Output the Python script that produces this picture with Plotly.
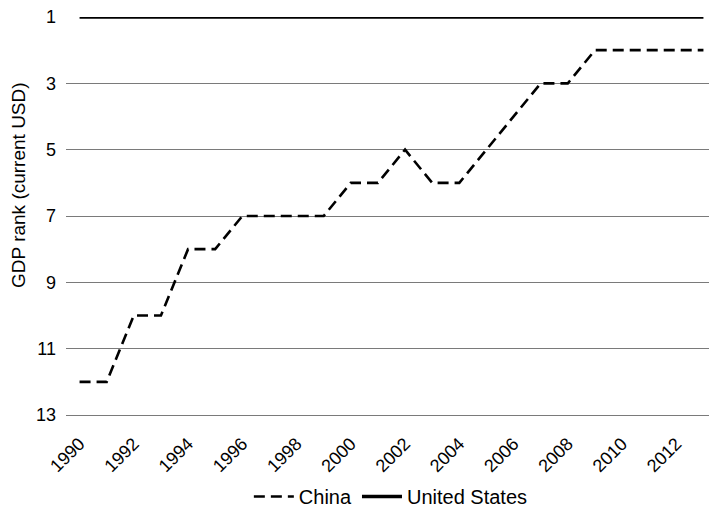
import plotly.graph_objects as go

years = list(range(1990, 2014))
china_rank = [12, 12, 10, 10, 8, 8, 7, 7, 7, 7, 6, 6, 5, 6, 6, 5, 4, 3, 3, 2, 2, 2, 2, 2]
us_rank = [1] * 24
x_ticks = list(range(1990, 2013, 2))
y_ticks = [1, 3, 5, 7, 9, 11, 13]
y_title = "GDP rank (current USD)"

FONT = "Liberation Sans, Arial, Helvetica, sans-serif"
GRID = "#7a7a7a"

fig = go.Figure()
fig.add_trace(go.Scatter(
    x=years, y=china_rank, name="China", mode="lines",
    line=dict(color="black", width=2.6, dash="11px,6px"),
))
fig.add_trace(go.Scatter(
    x=years, y=us_rank, name="United States", mode="lines",
    line=dict(color="black", width=3.6),
))

# page body adds an 8px offset, so the figure is sized/placed accordingly
fig.update_layout(
    width=709, height=508,
    margin=dict(l=58, r=0, t=9, b=101),
    paper_bgcolor="white", plot_bgcolor="white",
    font=dict(family=FONT, size=18, color="black"),
    showlegend=True,
    legend=dict(orientation="h", x=0.499, xanchor="center", y=-0.206, yanchor="middle",
                font=dict(size=20), traceorder="normal", itemwidth=40),
    xaxis=dict(range=[1989.5, 2013.5], tickvals=x_ticks, ticktext=[str(v) for v in x_ticks],
               tickangle=-45, showgrid=False, zeroline=False,
               showline=True, linecolor=GRID, linewidth=1.2,
               tickfont=dict(size=18), automargin=False, ticklabelstandoff=10,
               ticklabeloverflow="allow"),
    yaxis=dict(range=[13, 1], tickvals=y_ticks, showgrid=True, gridcolor=GRID,
               gridwidth=1.2, zeroline=False, showline=False, tickfont=dict(size=18),
               ticklabelstandoff=9, automargin=False, ticklabeloverflow="allow"),
    annotations=[dict(text=y_title, textangle=-90, x=-0.0722, xref="paper", xanchor="center",
                      y=0.578, yref="paper", yanchor="middle", showarrow=False,
                      font=dict(size=19))],
)

fig.write_html("out.html")
